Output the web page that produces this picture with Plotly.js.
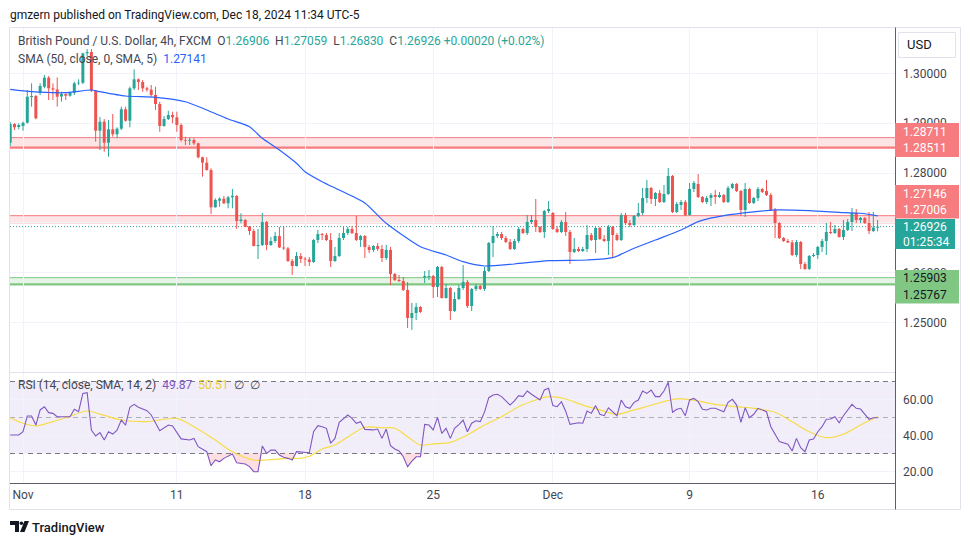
<!DOCTYPE html>
<html><head><meta charset="utf-8">
<script src="https://cdn.plot.ly/plotly-3.0.1.min.js"></script>
<style>html,body{margin:0;padding:0;background:#fff;}#chart{width:970px;height:545px;}</style>
</head><body><div id="chart"></div>
<script>
// ---------------- DATA ----------------
const tickIdx = [3, 39, 69, 99, 127, 159, 189];
const tickLabels = ['Nov', '11', '18', '25', 'Dec', '9', '16'];
const priceTicks = [1.25, 1.26, 1.27, 1.28, 1.29, 1.30];
const hiddenPriceTicks = [1.27];   // fully covered by the price labels on the scale
const rsiTicks = [20, 40, 60];

const open = [
1.28609,1.28984,1.28924,1.28944,1.29010,1.29525,1.29545,1.29611,1.29732,1.29912,
1.29700,1.29676,1.29535,1.29585,1.29551,1.29611,1.29800,1.29812,1.30401,1.30427,
1.29651,1.28849,1.29030,1.28609,1.28878,1.28777,1.28890,1.29279,1.29050,1.29700,
1.29880,1.29826,1.29700,1.29672,1.29565,1.29385,1.28944,1.29084,1.29164,1.29118,
1.28964,1.28663,1.28649,1.28663,1.28597,1.28316,1.28208,1.28062,1.27314,1.27446,
1.27486,1.27394,1.27514,1.27540,1.27039,1.27059,1.26929,1.26838,1.26538,1.26558,
1.27019,1.26558,1.26638,1.26738,1.26508,1.26488,1.26237,1.26137,1.26337,1.26283,
1.26267,1.26217,1.26658,1.26778,1.26758,1.26658,1.26237,1.26337,1.26698,1.26798,
1.26879,1.26798,1.26658,1.26738,1.26518,1.26458,1.26538,1.26478,1.26297,1.26458,
1.25976,1.25856,1.25836,1.25656,1.25094,1.25194,1.25315,1.25906,1.25916,1.25936,
1.25716,1.26117,1.25495,1.25696,1.25234,1.25475,1.25696,1.25816,1.25335,1.25676,
1.25736,1.25676,1.26036,1.26598,1.26738,1.26778,1.26698,1.26618,1.26478,1.26638,
1.26879,1.26798,1.27019,1.27059,1.26919,1.26818,1.27239,1.27199,1.26879,1.26818,
1.27019,1.26818,1.26417,1.26478,1.26437,1.26478,1.26758,1.26658,1.26899,1.26678,
1.26638,1.26919,1.26758,1.26658,1.27159,1.26999,1.26959,1.27139,1.27199,1.27500,
1.27701,1.27480,1.27600,1.27420,1.27580,1.27941,1.27219,1.27360,1.27420,1.27159,
1.27681,1.27781,1.27520,1.27420,1.27500,1.27560,1.27520,1.27560,1.27420,1.27701,
1.27781,1.27640,1.27260,1.27681,1.27400,1.27500,1.27681,1.27640,1.27560,1.27260,
1.26999,1.26698,1.26638,1.26608,1.26357,1.26618,1.26177,1.26077,1.26337,1.26357,
1.26518,1.26638,1.26818,1.26798,1.26879,1.26718,1.26859,1.27019,1.27199,1.27059,
1.27099,1.26999,1.26838,1.26906];
const high = [
1.29024,1.28998,1.28998,1.29030,1.29666,1.29800,1.29565,1.29800,1.29966,1.29946,
1.29800,1.29920,1.29631,1.29599,1.29631,1.29832,1.29880,1.30413,1.30488,1.30488,
1.29666,1.29124,1.29084,1.29064,1.29184,1.28918,1.29331,1.29331,1.29732,1.30081,
1.29900,1.29866,1.29732,1.29766,1.29732,1.29431,1.29144,1.29250,1.29230,1.29230,
1.28998,1.28729,1.28703,1.28697,1.28609,1.28328,1.28316,1.28096,1.27494,1.27514,
1.27540,1.27540,1.27681,1.27560,1.27193,1.27079,1.26939,1.26879,1.26879,1.27199,
1.27039,1.26718,1.26818,1.26919,1.26939,1.26518,1.26277,1.26417,1.26397,1.26317,
1.26317,1.26678,1.26859,1.26798,1.26798,1.26798,1.26518,1.26798,1.26919,1.26919,
1.26939,1.27139,1.26758,1.26758,1.26558,1.26558,1.26598,1.26558,1.26558,1.26518,
1.25996,1.25956,1.25916,1.25816,1.25395,1.25395,1.25335,1.26036,1.26057,1.25956,
1.26137,1.26137,1.25776,1.25716,1.25615,1.25756,1.26157,1.25856,1.25696,1.25776,
1.25756,1.26117,1.26618,1.26939,1.26818,1.26818,1.26738,1.26678,1.26678,1.26919,
1.26899,1.27159,1.27159,1.27480,1.26939,1.27260,1.27440,1.27219,1.26939,1.27059,
1.27219,1.26859,1.26698,1.26518,1.26518,1.26959,1.26798,1.26919,1.26919,1.26758,
1.26959,1.26939,1.26798,1.27199,1.27199,1.27059,1.27159,1.27400,1.27701,1.27861,
1.27721,1.27620,1.27661,1.27761,1.28102,1.27961,1.27420,1.27460,1.27460,1.27801,
1.27841,1.27981,1.27540,1.27540,1.27600,1.27661,1.27620,1.27580,1.27741,1.27801,
1.27801,1.27661,1.27801,1.27701,1.27520,1.27721,1.27701,1.27861,1.27600,1.27300,
1.27019,1.26718,1.26678,1.26658,1.26658,1.26638,1.26217,1.26357,1.26397,1.26538,
1.26678,1.26999,1.27019,1.26959,1.26899,1.27059,1.27079,1.27300,1.27280,1.27119,
1.27119,1.27219,1.27219,1.27059];
const low = [
1.28543,1.28864,1.28878,1.28849,1.28994,1.29331,1.29078,1.29565,1.29700,1.29465,
1.29465,1.29331,1.29431,1.29465,1.29531,1.29565,1.29766,1.29786,1.30347,1.29625,
1.28629,1.28463,1.28428,1.28328,1.28729,1.28697,1.28864,1.29030,1.28918,1.29666,
1.29666,1.29631,1.29631,1.29531,1.29265,1.28829,1.28930,1.29064,1.28998,1.28829,
1.28629,1.28563,1.28563,1.28563,1.28296,1.27927,1.28048,1.27179,1.27306,1.27326,
1.27380,1.27294,1.27294,1.26879,1.26993,1.26913,1.26758,1.26528,1.26277,1.26538,
1.26458,1.26538,1.26598,1.26498,1.26458,1.26217,1.25956,1.26127,1.26197,1.26137,
1.26137,1.26197,1.26598,1.26658,1.26638,1.26117,1.26217,1.26317,1.26658,1.26758,
1.26778,1.26638,1.26518,1.26297,1.26397,1.26417,1.26437,1.26217,1.26257,1.25756,
1.25836,1.25816,1.25636,1.24894,1.24854,1.25054,1.25194,1.25796,1.25856,1.25495,
1.25515,1.25485,1.25485,1.25054,1.25214,1.25455,1.25656,1.25295,1.25234,1.25636,
1.25656,1.25636,1.26016,1.26317,1.26698,1.26658,1.26598,1.26458,1.26458,1.26598,
1.26778,1.26758,1.26979,1.26818,1.26798,1.26698,1.27199,1.26859,1.26798,1.26798,
1.26738,1.26177,1.26397,1.26417,1.26417,1.26417,1.26638,1.26397,1.26658,1.26618,
1.26357,1.26297,1.26638,1.26638,1.26959,1.26919,1.26939,1.27119,1.27159,1.27400,
1.27380,1.27340,1.27400,1.27400,1.27560,1.27199,1.27199,1.27260,1.27139,1.27139,
1.27620,1.27500,1.27400,1.27380,1.27340,1.27380,1.27500,1.27400,1.27400,1.27681,
1.27620,1.27139,1.27119,1.27380,1.27380,1.27440,1.27600,1.27540,1.27239,1.26698,
1.26678,1.26618,1.26598,1.26337,1.26317,1.26077,1.26057,1.26057,1.26317,1.26277,
1.26417,1.26357,1.26778,1.26778,1.26708,1.26658,1.26838,1.26838,1.26999,1.26999,
1.26979,1.26778,1.26818,1.26830];
const close = [
1.28984,1.28918,1.28964,1.29010,1.29531,1.29545,1.29098,1.29746,1.29912,1.29700,
1.29676,1.29531,1.29585,1.29551,1.29611,1.29800,1.29812,1.30401,1.30427,1.29651,
1.28849,1.29030,1.28609,1.28878,1.28777,1.28890,1.29279,1.29050,1.29700,1.29880,
1.29826,1.29700,1.29672,1.29565,1.29385,1.28944,1.29084,1.29164,1.29118,1.28964,
1.28663,1.28649,1.28667,1.28597,1.28316,1.28208,1.28062,1.27314,1.27460,1.27486,
1.27394,1.27514,1.27546,1.27039,1.27069,1.26919,1.26838,1.26538,1.26558,1.27019,
1.26558,1.26638,1.26738,1.26508,1.26488,1.26237,1.26137,1.26337,1.26277,1.26267,
1.26217,1.26658,1.26778,1.26758,1.26658,1.26237,1.26337,1.26698,1.26798,1.26879,
1.26798,1.26658,1.26738,1.26518,1.26458,1.26538,1.26478,1.26297,1.26458,1.25976,
1.25856,1.25836,1.25656,1.25094,1.25194,1.25315,1.25214,1.25936,1.25936,1.25716,
1.26117,1.25495,1.25696,1.25234,1.25475,1.25696,1.25816,1.25335,1.25676,1.25736,
1.25676,1.26036,1.26598,1.26738,1.26778,1.26698,1.26618,1.26478,1.26638,1.26879,
1.26798,1.27019,1.27059,1.26919,1.26818,1.27239,1.27280,1.26879,1.26818,1.27019,
1.26818,1.26417,1.26478,1.26437,1.26478,1.26758,1.26658,1.26899,1.26678,1.26638,
1.26919,1.26758,1.26658,1.27159,1.26999,1.26959,1.27139,1.27199,1.27500,1.27701,
1.27480,1.27600,1.27420,1.27580,1.27941,1.27219,1.27380,1.27420,1.27159,1.27681,
1.27801,1.27520,1.27420,1.27500,1.27560,1.27520,1.27560,1.27420,1.27701,1.27781,
1.27640,1.27260,1.27681,1.27400,1.27500,1.27681,1.27620,1.27560,1.27260,1.26999,
1.26698,1.26638,1.26608,1.26357,1.26618,1.26177,1.26077,1.26337,1.26357,1.26518,
1.26638,1.26818,1.26798,1.26879,1.26718,1.26859,1.27019,1.27199,1.27059,1.27099,
1.26999,1.26838,1.26906,1.26926];

const smaIdx = [0,5,13,19,21,27,34,41,46,51,56,59,63,67,69,73,77,83,88,96,102,106,111,118,126,135,141,146,151,157,161,168,179,187,195,199,203];
const smaVal = [1.29680,1.29632,1.29612,1.29666,1.29632,1.29545,1.29519,1.29431,1.29265,1.29084,1.28930,1.28697,1.28463,1.28196,1.28027,1.27827,1.27661,1.27400,1.26993,1.26524,1.26357,1.26223,1.26137,1.26177,1.26243,1.26257,1.26303,1.26492,1.26658,1.26859,1.27025,1.27160,1.27260,1.27246,1.27206,1.27194,1.27141];

// RSI(14)
const rsiIdx = [0,2,3,4,5,6,7,8,9,10,
 11,14,15,16,17,18,19,20,21,22,
 23,24,25,26,27,28,29,30,32,33,
 35,37,38,40,42,43,44,46,47,48,
 49,50,52,53,55,56,57,58,59,60,
 61,62,63,64,65,66,67,70,71,72,
 73,74,75,76,77,79,80,81,82,83,
 85,86,87,88,89,90,91,92,93,94,
 95,96,97,98,99,100,101,102,103,104,
 105,106,107,108,109,110,111,112,113,114,
 115,117,118,119,120,121,122,124,125,126,
 127,128,129,130,131,133,134,135,136,137,
 138,139,140,142,143,144,145,146,147,148,
 149,150,151,152,153,154,155,156,157,158,
 159,160,161,162,163,164,165,167,168,169,
 170,171,172,173,174,175,177,178,180,181,
 182,183,184,185,186,187,188,189,190,191,
 192,193,194,195,197,198,199,201,202,203];
const rsiVal = [40.3,40.3,42.1,50.8,50.8,45.8,54.2,56,52.7,52.3,
 50.4,50.4,54.6,53.2,63.4,63.8,43,39.7,41.6,37.5,
 42.1,40.8,43,48.6,45.8,55.7,57.3,55.7,53.8,51.4,
 42.7,45.8,45.3,38.1,37.5,38.4,33.8,31,23.2,26.4,
 25.4,27.3,29.7,24.9,24.2,22.7,19.9,19.9,34.2,30.1,
 31.9,31.9,29.2,27.9,27.3,26.4,31,30.4,42.1,45.5,
 44.9,44,35.7,38.4,47.3,51.4,49.5,46.8,47.7,43.4,
 43.1,43.6,38.4,43.6,34.4,32.5,31.4,28.2,22.7,25.8,
 28.2,28.2,46.2,45.8,43.1,50.1,41.2,44,38.4,44,
 46,48.6,42.1,46.8,48.2,47.7,53,61,62.5,62.9,
 61.6,56.9,59.2,62.1,61.6,64.7,62.9,59.7,65.3,66.2,
 56.6,56,58.8,53.5,46.2,47.1,46.8,53.6,52.3,56.6,
 51.8,51,55.4,51,59.7,56,55.1,58.4,59.7,64.7,
 63.4,65.3,61.6,61.6,64.7,69.6,52.9,54.6,55.1,51,
 59.7,60.6,58.8,54.6,54.2,55.1,55.1,53.2,58.4,60.1,
 56.9,47.3,55.4,49.9,51.8,55.1,53.2,44.9,36.6,35.7,
 35.1,31.4,38.4,33.2,31,37.5,38.1,42.1,44.9,49,
 49.2,50.4,47.1,51,57.3,55.1,54.7,49,49.9,49.87];
// RSI-based SMA(14)
const rsiMaIdx = [0,3,6,10,13,18,21,26,32,39,43,48,52,57,60,65,68,70,73,76,80,83,87,90,93,96,99,103,107,111,115,119,123,126,130,134,138,142,146,151,156,160,165,170,174,179,184,187,191,195,199,203];
const rsiMaVal = [49.9,46.8,45.3,47.7,49.9,53.6,51.9,48.6,47.7,49.5,44.9,37.5,31,26.4,26.4,27.3,27.3,28.5,32.5,34.7,40.7,44.6,44.3,44,39.3,34.7,35.3,36.2,40.3,45.8,50.4,56,59.7,61.6,60.3,56.9,54.2,51.8,54.2,57.5,60.3,59.7,57.3,56,55.1,52.9,46.2,42.1,38.8,40.7,45.8,50.51];

const resistance1 = [1.28511, 1.28711];
const resistance2 = [1.27006, 1.27146];
const support1 = [1.25767, 1.25903];
const lastPrice = 1.26926;
const countdown = '01:25:34';
const smaLast = 1.27141;
const rsiLast = 49.87, rsiMaLast = 50.51;
const rsiLevels = {upper: 70, mid: 50, lower: 30};

// ---------------- LAYOUT HELPERS ----------------
const W = 970, H = 545;
const X0 = 10, X1 = 895, MAIN_TOP = 28, MAIN_BOT = 372, RSI_TOP = 373, RSI_BOT = 483;
const px = x => x / W, py = y => 1 - y / H;
const FONT = 'Roboto, "Noto Sans", Arial, sans-serif';
const UP = '#26a69a', DN = '#ef5350';

const idx = open.map((_, i) => i);
const isUp = idx.map(i => close[i] >= open[i]);

const traces = [];
function wick(dir) {
  const xs = [], ys = [];
  idx.forEach(i => { if (isUp[i] === dir) { xs.push(i, i, null); ys.push(low[i], high[i], null); } });
  return {type: 'scatter', mode: 'lines', x: xs, y: ys, xaxis: 'x', yaxis: 'y',
    line: {color: dir ? UP : DN, width: 1}, hoverinfo: 'skip'};
}
traces.push(wick(true), wick(false));
traces.push({type: 'bar', x: idx, base: idx.map(i => Math.min(open[i], close[i])),
  y: idx.map(i => Math.abs(close[i] - open[i])), width: 0.7, xaxis: 'x', yaxis: 'y',
  marker: {color: idx.map(i => isUp[i] ? UP : DN), line: {width: 0}}, hoverinfo: 'skip'});
traces.push({type: 'scatter', mode: 'lines', x: smaIdx, y: smaVal, xaxis: 'x', yaxis: 'y',
  line: {color: '#2962ff', width: 1.2, shape: 'spline', smoothing: 0.6}, hoverinfo: 'skip'});

// RSI oversold fill
traces.push({type: 'scatter', mode: 'lines', x: rsiIdx, y: rsiIdx.map(() => rsiLevels.lower), xaxis: 'x', yaxis: 'y2',
  line: {width: 0, color: 'rgba(0,0,0,0)'}, hoverinfo: 'skip'});
traces.push({type: 'scatter', mode: 'lines', x: rsiIdx, y: rsiVal.map(v => Math.min(v, rsiLevels.lower)), xaxis: 'x', yaxis: 'y2',
  fill: 'tonexty', fillcolor: 'rgba(242,54,69,0.16)', line: {width: 0, color: 'rgba(0,0,0,0)'}, hoverinfo: 'skip'});
traces.push({type: 'scatter', mode: 'lines', x: rsiMaIdx, y: rsiMaVal, xaxis: 'x', yaxis: 'y2',
  line: {color: '#f7dc45', width: 1.2, shape: 'spline', smoothing: 0.8}, hoverinfo: 'skip'});
traces.push({type: 'scatter', mode: 'lines', x: rsiIdx, y: rsiVal, xaxis: 'x', yaxis: 'y2',
  line: {color: '#7e57c2', width: 1.1}, hoverinfo: 'skip'});

// ---------------- SHAPES ----------------
const shapes = [];
function hline(yref, y, color, width, dash, layer) {
  shapes.push({type: 'line', xref: 'paper', yref: yref, x0: px(X0), x1: px(X1), y0: y, y1: y,
    line: {color: color, width: width, dash: dash || 'solid'}, layer: layer || 'below'});
}
function rectPx(x0, y0, x1, y1, fill, lineColor, layer) {
  shapes.push({type: 'rect', xref: 'paper', yref: 'paper', x0: px(x0), x1: px(x1), y0: py(y1), y1: py(y0),
    fillcolor: fill, line: {color: lineColor || 'rgba(0,0,0,0)', width: lineColor ? 1 : 0}, layer: layer || 'above'});
}
function linePx(x0, y0, x1, y1, color, width) {
  shapes.push({type: 'line', xref: 'paper', yref: 'paper', x0: px(x0), x1: px(x1), y0: py(y0), y1: py(y1),
    line: {color: color, width: width || 1}, layer: 'above'});
}
// RSI band and levels
shapes.push({type: 'rect', xref: 'paper', yref: 'y2', x0: px(X0), x1: px(X1), y0: rsiLevels.lower, y1: rsiLevels.upper,
  fillcolor: 'rgba(126,87,194,0.1)', line: {width: 0}, layer: 'below'});
hline('y2', rsiLevels.upper, '#787b86', 1, '5px,4px');
hline('y2', rsiLevels.mid, 'rgba(120,123,134,0.55)', 1, '5px,4px');
hline('y2', rsiLevels.lower, '#787b86', 1, '5px,4px');

// price zones
function zone(z, red, thickBottom) {
  const lc = red ? '#f77c80' : '#81c784';
  shapes.push({type: 'rect', xref: 'paper', yref: 'y', x0: px(X0), x1: px(X1), y0: z[0], y1: z[1],
    fillcolor: red ? 'rgba(247,124,128,0.2)' : 'rgba(129,199,132,0.2)', line: {width: 0}, layer: 'below'});
  hline('y', z[1], lc, 1);
  hline('y', z[0], lc, thickBottom ? 2.2 : 1.3);
}
zone(resistance1, true, true);
zone(resistance2, true, false);
zone(support1, false, true);
hline('y', lastPrice, UP, 1, '1px,2px');

// frame and separators
rectPx(9.5, 27.5, 960.5, 509.5, 'rgba(0,0,0,0)', '#e0e3eb');
linePx(X0, 372.5, X1, 372.5, '#e0e3eb', 1);
linePx(X0, RSI_BOT + 0.5, X1, RSI_BOT + 0.5, '#5d606b', 1);
linePx(X1 + 0.5, 27.5, X1 + 0.5, 509.5, '#5d606b', 1);

// price-scale labels
rectPx(895, 123, 959, 157, '#f77c80');
rectPx(895, 185, 959, 218.5, '#f77c80');
rectPx(895, 219, 955, 249, UP);
rectPx(895, 270, 959, 303.5, '#81c784');
// USD button
rectPx(898.5, 32.5, 955.5, 57.5, '#ffffff', '#e0e3eb');
// TradingView logo
shapes.push({type: 'path', xref: 'paper', yref: 'paper', layer: 'above', fillcolor: '#131722', line: {width: 0},
  path: `M${px(10)},${py(521)} L${px(19)},${py(521)} L${px(19)},${py(532)} L${px(15)},${py(532)} L${px(15)},${py(525)} L${px(10)},${py(525)} Z`});
shapes.push({type: 'circle', xref: 'paper', yref: 'paper', layer: 'above', fillcolor: '#131722', line: {width: 0},
  x0: px(19.6), x1: px(23.2), y0: py(525), y1: py(521.4)});
shapes.push({type: 'path', xref: 'paper', yref: 'paper', layer: 'above', fillcolor: '#131722', line: {width: 0},
  path: `M${px(24.5)},${py(521)} L${px(29)},${py(521)} L${px(24.5)},${py(532)} L${px(20)},${py(532)} Z`});

// ---------------- ANNOTATIONS ----------------
const ann = [];
function text(x, y, t, size, color, opts) {
  ann.push(Object.assign({xref: 'paper', yref: 'paper', x: px(x), y: py(y), text: t, showarrow: false,
    xanchor: 'left', yanchor: 'middle', font: {family: FONT, size: size, color: color}}, opts || {}));
}
const sp = '\u00a0';
const g = s => `<span style="color:${UP}">${s}</span>`;
text(8, 15, 'gmzern published on TradingView.com, Dec 18, 2024 11:34 UTC-5', 12, '#131722');
const chg = (close[close.length - 1] - open[open.length - 1]);
text(16, 41, `British Pound / U.S. Dollar, 4h, FXCM${sp}${sp}O${g(open[203].toFixed(5))}${sp}${sp}H${g(high[203].toFixed(5))}${sp}${sp}L${g(low[203].toFixed(5))}${sp}${sp}C${g(close[203].toFixed(5))}${sp}${g('+' + chg.toFixed(5) + ' (+0.02%)')}`, 12, '#434651');
text(16, 59, `SMA (50, close, 0, SMA, 5)${sp}${sp}<span style="color:#2962ff">${smaLast.toFixed(5)}</span>`, 12, '#434651');
text(16, 385, `RSI (14, close, SMA, 14, 2)${sp}${sp}<span style="color:#7e57c2">${rsiLast.toFixed(2)}</span>${sp}${sp}<span style="color:#e8cc2e">${rsiMaLast.toFixed(2)}</span>${sp}${sp}∅${sp}${sp}∅`, 12, '#434651');
// price-scale label texts
text(901, 131.7, resistance1[1].toFixed(5), 12, '#ffffff');
text(901, 148.3, resistance1[0].toFixed(5), 12, '#ffffff');
text(901, 194, resistance2[1].toFixed(5), 12, '#ffffff');
text(901, 210, resistance2[0].toFixed(5), 12, '#ffffff');
text(901, 227.3, lastPrice.toFixed(5), 12, '#ffffff');
text(901, 241.7, countdown, 12, '#ffffff');
text(901, 278.3, support1[1].toFixed(5), 12, '#131722');
text(901, 295.3, support1[0].toFixed(5), 12, '#131722');
text(905, 45, 'USD', 13, '#131722');
text(30, 527, 'TradingView', 13, '#131722', {font: {family: FONT, size: 13, color: '#131722', weight: 500}});

// ---------------- LAYOUT ----------------
const axisFont = {family: FONT, size: 12, color: '#434651'};
const layout = {
  width: W, height: H, margin: {l: 0, r: 0, t: 0, b: 0}, autosize: false,
  paper_bgcolor: '#ffffff', plot_bgcolor: '#ffffff', showlegend: false, hovermode: false, barmode: 'overlay',
  font: {family: FONT, size: 12, color: '#131722'},
  xaxis: {domain: [px(X0), px(X1)], range: [-0.05, 207.07], anchor: 'y2', tickmode: 'array',
    tickvals: tickIdx, ticktext: tickLabels, showgrid: true, gridcolor: '#f0f3fa', zeroline: false,
    showline: false, ticks: '', ticklabelstandoff: 3, tickfont: axisFont, fixedrange: true},
  yaxis: {domain: [py(MAIN_BOT), py(MAIN_TOP)], range: [1.24011, 1.30909], anchor: 'x', side: 'right',
    tickmode: 'array', tickvals: priceTicks,
    ticktext: priceTicks.map(v => hiddenPriceTicks.includes(v) ? '' : v.toFixed(5)),
    showgrid: true, gridcolor: '#f0f3fa', zeroline: false, showline: false, ticks: '',
    ticklabelstandoff: 7, tickfont: axisFont, fixedrange: true},
  yaxis2: {domain: [py(RSI_BOT), py(RSI_TOP)], range: [13.61, 74.72], anchor: 'x', side: 'right',
    tickmode: 'array', tickvals: rsiTicks, ticktext: rsiTicks.map(v => v.toFixed(2)),
    showgrid: true, gridcolor: '#f0f3fa', zeroline: false, showline: false, ticks: '',
    ticklabelstandoff: 7, tickfont: axisFont, fixedrange: true},
  shapes: shapes, annotations: ann
};
Plotly.newPlot('chart', traces, layout, {staticPlot: true, displayModeBar: false});
</script>
</body></html>
